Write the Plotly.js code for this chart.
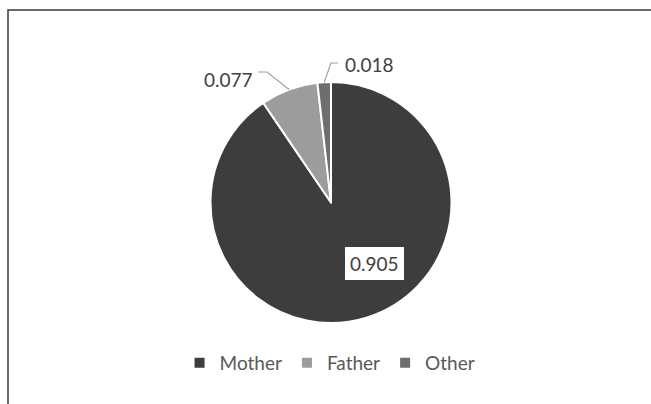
<!DOCTYPE html>
<html>
<head>
<meta charset="utf-8">
<script src="https://cdn.plot.ly/plotly-3.0.1.min.js"></script>
<style>html,body{margin:0;padding:0;background:#fff;}#chart{width:651px;height:404px;}</style>
</head>
<body>
<div id="chart"></div>
<script>
// Data
const categories = ["Mother", "Father", "Other"];
const shares = [0.905, 0.077, 0.018];
const sliceColors = ["#3d3d3d", "#9c9c9c", "#6e6e6e"];

const W = 651, H = 404;
const px = x => x / W;
const py = y => 1 - y / H;

// Pie geometry (pixels)
const cx = 331, cy = 202.5, R = 120.5;

// Mid-angle of a slice (clockwise from 12 o'clock)
function midPoint(i, rf) {
  const total = shares.reduce((a, b) => a + b, 0);
  let cum = 0;
  for (let k = 0; k < i; k++) cum += shares[k];
  const f = (cum + shares[i] / 2) / total;
  const th = f * 2 * Math.PI;
  return [cx + R * rf * Math.sin(th), cy - R * rf * Math.cos(th)];
}

const font = {family: "Lato, 'Open Sans', sans-serif", size: 19, color: "#404040"};

const trace = {
  type: "pie",
  labels: categories,
  values: shares,
  sort: false,
  direction: "clockwise",
  rotation: 0,
  textinfo: "none",
  hoverinfo: "none",
  marker: {colors: sliceColors, line: {color: "#ffffff", width: 2}},
  domain: {x: [px(cx - R), px(cx + R)], y: [py(cy + R), py(cy - R)]}
};

// leader lines from slice edge to labels
const pF = midPoint(1, 1.0);
const pO = midPoint(2, 1.0);
const shapes = [
  {type: "path", xref: "paper", yref: "paper",
   path: `M${px(pF[0])},${py(pF[1])} L${px(267)},${py(72)} L${px(258)},${py(72)}`,
   line: {color: "#a0a0a0", width: 1.2}},
  {type: "path", xref: "paper", yref: "paper",
   path: `M${px(pO[0])},${py(pO[1])} L${px(331)},${py(63)} L${px(338)},${py(63)}`,
   line: {color: "#a0a0a0", width: 1.2}},
  // chart frame (top and left edges visible)
  {type: "rect", xref: "paper", yref: "paper",
   x0: px(8), x1: 1.2, y0: -0.2, y1: py(10),
   line: {color: "#3a3a3a", width: 1.5}, fillcolor: "rgba(0,0,0,0)"}
];

const annotations = [
  {xref: "paper", yref: "paper", x: px(375), y: py(263), xanchor: "center", yanchor: "middle",
   text: shares[0].toFixed(3), showarrow: false, font: font,
   bgcolor: "#ffffff", borderpad: 5, borderwidth: 0},
  {xref: "paper", yref: "paper", x: px(228), y: py(80), xanchor: "center", yanchor: "middle",
   text: shares[1].toFixed(3), showarrow: false, font: font},
  {xref: "paper", yref: "paper", x: px(369), y: py(64), xanchor: "center", yanchor: "middle",
   text: shares[2].toFixed(3), showarrow: false, font: font}
];

const layout = {
  width: W, height: H,
  margin: {l: 0, r: 0, t: 0, b: 0},
  paper_bgcolor: "#ffffff",
  showlegend: true,
  legend: {orientation: "h", x: 0.507, xanchor: "center", y: py(363), yanchor: "middle",
           font: {family: font.family, size: 19, color: "#595959"}, itemclick: false},
  shapes: shapes,
  annotations: annotations
};

Plotly.newPlot("chart", [trace], layout, {staticPlot: true, displayModeBar: false});
</script>
</body>
</html>
